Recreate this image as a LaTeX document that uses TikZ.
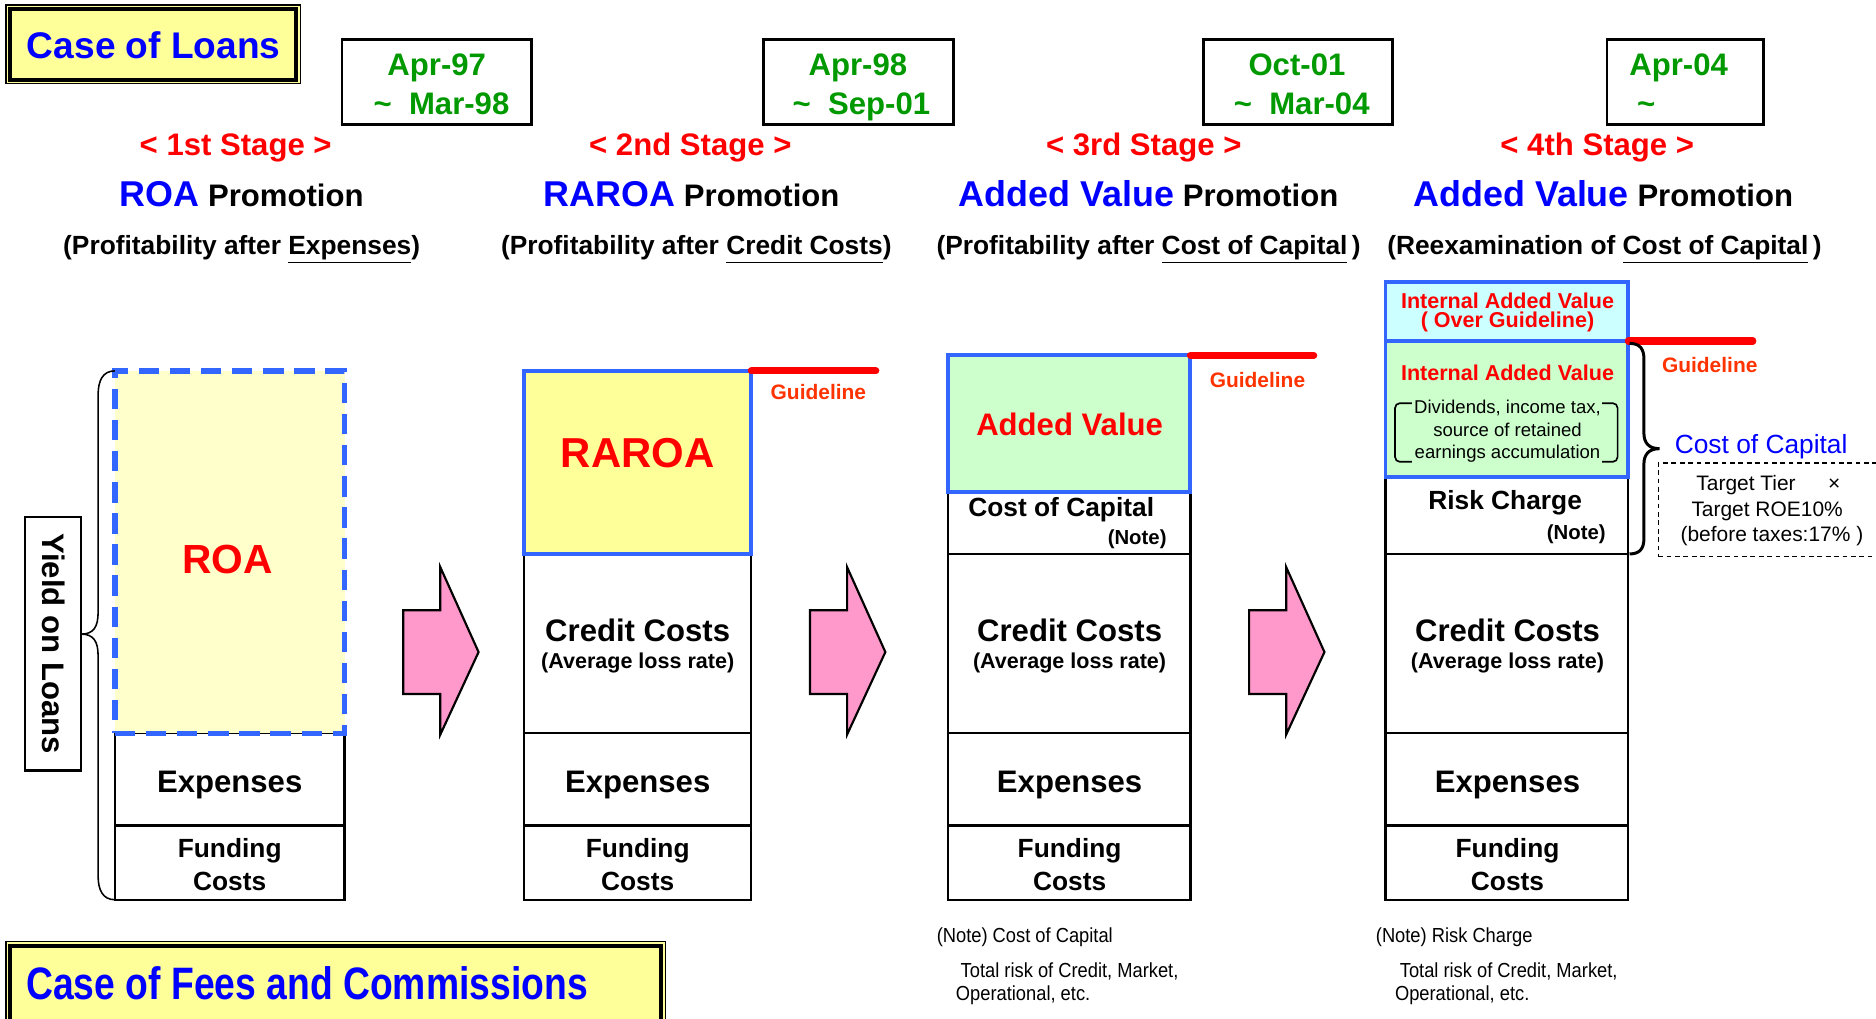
\documentclass[tikz,border=0pt]{standalone}
\usepackage{fontspec}
\setmainfont{Liberation Sans}
\usepackage{graphicx}
\usetikzlibrary{fit}
\definecolor{caseyel}{HTML}{FFFF99}
\definecolor{txtblue}{HTML}{0000FF}
\definecolor{dategreen}{HTML}{009900}
\definecolor{roafill}{HTML}{FFFFCC}
\definecolor{boxblue}{HTML}{3366FF}
\definecolor{raroafill}{HTML}{FFFF99}
\definecolor{avfill}{HTML}{CCFFCC}
\definecolor{overfill}{HTML}{CCFFFF}
\definecolor{arrowpink}{HTML}{FF99CC}
\definecolor{guidered}{HTML}{FF0000}
\definecolor{guidetxt}{HTML}{FF3300}
\newcommand\fsz[1]{\fontsize{#1}{#1}\selectfont}
\newcommand\ulx[1]{\underline{\vphantom{p}#1}}
\begin{document}
\begin{tikzpicture}[x=1pt,y=-1pt,
 txt/.style={inner sep=0pt,outer sep=0pt,anchor=base},
 cell/.style={draw=black,line width=1.8pt,fill=white,inner sep=0pt,outer sep=0pt},
 bluecell/.style={draw=boxblue,line width=3.3pt,inner sep=0pt,outer sep=0pt},
 roacell/.style={draw=boxblue,line width=4.5pt,dash pattern=on 17pt off 9pt,fill=roafill,inner sep=0pt,outer sep=0pt},
 datebox/.style={draw=black,line width=2.2pt,inner sep=0pt,outer sep=0pt},
 guideline/.style={draw=guidered,line width=6pt,line cap=round},
 bigarrow/.style={draw=black,line width=1.8pt,fill=arrowpink,line join=miter},
 datetxt/.style={txt,font=\fsz{26}\bfseries,text=dategreen},
 stagetxt/.style={txt,font=\fsz{26}\bfseries,text=red},
 promotxt/.style={txt,font=\fsz{26}\bfseries},
 paren/.style={txt,font=\fsz{22}\bfseries},
 bigcell/.style={txt,font=\fsz{26}\bfseries},
 midcell/.style={txt,font=\fsz{22}\bfseries},
 smallcell/.style={txt,font=\fsz{18}\bfseries},
 guidelbl/.style={txt,font=\fsz{17.5}\bfseries,text=guidetxt},
 notetxt/.style={txt,anchor=base west,font=\fsz{17}},
]
\useasboundingbox (0,0) rectangle (1568,851);
\fill[white] (0,0) rectangle (1568,851);

% ---------- Case of Loans
\node[draw=black,line width=1.2pt,fill=caseyel,fit={(5,4) (251,70)},inner sep=0pt,outer sep=0pt] (loansouter) {};
\node[draw=black,line width=3.3pt,fit={(8.5,7.8) (247.5,66.5)},inner sep=0pt,outer sep=0pt] (loansinner) {};
\node[txt,font=\fsz{31}\bfseries,text=txtblue] (loans) at (128.5,49) {Case of Loans};

% ---------- Date boxes
\node[datebox,fit={(286,33) (444,104)}] (date1) {};
\node[datetxt] (date1a) at (365,63) {Apr-97};
\node[datetxt] (date1b) at (369,96) {\textasciitilde\ \ Mar-98};
\node[datebox,fit={(638,33) (797,104)}] (date2) {};
\node[datetxt] (date2a) at (717,63) {Apr-98};
\node[datetxt] (date2b) at (720,96) {\textasciitilde\ \ Sep-01};
\node[datebox,fit={(1006,33) (1164,104)}] (date3) {};
\node[datetxt] (date3a) at (1084,63) {Oct-01};
\node[datetxt] (date3b) at (1088,96) {\textasciitilde\ \ Mar-04};
\node[datebox,fit={(1343,33) (1474,104)}] (date4) {};
\node[datetxt] (date4a) at (1403,63) {Apr-04};
\node[datetxt] (date4b) at (1376,96) {\textasciitilde};

% ---------- Stage headers
\node[stagetxt] (st1) at (197,130) {< 1st Stage >};
\node[stagetxt] (st2) at (577,130) {< 2nd Stage >};
\node[stagetxt] (st3) at (956,130) {< 3rd Stage >};
\node[stagetxt] (st4) at (1335,130) {< 4th Stage >};

\node[promotxt] (pr1) at (202,173) {{\fsz{30}\color{txtblue}ROA} Promotion};
\node[promotxt] (pr2) at (578,173) {{\fsz{30}\color{txtblue}RAROA} Promotion};
\node[promotxt] (pr3) at (960,173) {{\fsz{30}\color{txtblue}Added Value} Promotion};
\node[promotxt] (pr4) at (1340,173) {{\fsz{30}\color{txtblue}Added Value} Promotion};

\node[paren] (pa1) at (202,213) {(Profitability after \ulx{Expenses})};
\node[paren] (pa2) at (582,213) {(Profitability after \ulx{Credit Costs})};
\node[paren] (pa3) at (960,213) {(Profitability after \ulx{Cost of Capital}\,)};
\node[paren] (pa4) at (1341,213) {(Reexamination of \ulx{Cost of Capital}\,)};

% ---------- Column 1
\node[cell,fit={(96,613) (288,690)}] (exp1) {};
\node[cell,fit={(96,690) (288,752)}] (fund1) {};
\node[roacell,fit={(96,310) (288,613)}] (roa1) {};
\node[txt,font=\fsz{34}\bfseries,text=red] (roa1t) at (190,479) {ROA};
\node[bigcell] (exp1t) at (192,662) {Expenses};
\node[midcell] (fund1a) at (192,717) {Funding};
\node[midcell] (fund1b) at (192,744) {Costs};

% yield brace and box
\draw[line width=1.3pt] (96,310) .. controls (86,310) and (82,318) .. (82,330) -- (82,512)
  .. controls (82,524) and (78,530) .. (68,530) .. controls (78,530) and (82,536) .. (82,548)
  -- (82,732) .. controls (82,744) and (86,752) .. (96,752);
\node[draw=black,line width=1.8pt,fill=white,fit={(21,432) (68,644)},inner sep=0pt,outer sep=0pt] (yieldbox) {};
\node[font=\fsz{26}\bfseries,rotate=-90,inner sep=0pt] (yield) at (44.5,538) {Yield on Loans};

% ---------- Column 2
\node[cell,fit={(438,463) (628,613)}] (cred2) {};
\node[cell,fit={(438,613) (628,690)}] (exp2) {};
\node[cell,fit={(438,690) (628,752)}] (fund2) {};
\node[bluecell,fill=raroafill,fit={(438,310) (628,463)}] (raroa2) {};
\node[txt,font=\fsz{35}\bfseries,text=red] (raroa2t) at (533,391) {RAROA};
\node[bigcell] (cred2a) at (533,536) {Credit Costs};
\node[smallcell] (cred2b) at (533,559) {(Average loss rate)};
\node[bigcell] (exp2t) at (533,662) {Expenses};
\node[midcell] (fund2a) at (533,717) {Funding};
\node[midcell] (fund2b) at (533,744) {Costs};
\coordinate (g2end) at (732,310);
\draw[guideline] (raroa2.north east) -- (g2end);
\node[guidelbl] (g2t) at (684,334) {Guideline};

% ---------- Column 3
\node[cell,fit={(792,411) (995,463)}] (coc3) {};
\node[cell,fit={(792,463) (995,613)}] (cred3) {};
\node[cell,fit={(792,613) (995,690)}] (exp3) {};
\node[cell,fit={(792,690) (995,752)}] (fund3) {};
\node[bluecell,fill=avfill,fit={(792,297) (995,411)}] (av3) {};
\node[txt,font=\fsz{26}\bfseries,text=red] (av3t) at (894,364) {Added Value};
\node[midcell] (coc3a) at (887,432) {Cost of Capital};
\node[txt,anchor=base east,font=\fsz{17}\bfseries] (coc3b) at (975,455) {(Note)};
\node[bigcell] (cred3a) at (894,536) {Credit Costs};
\node[smallcell] (cred3b) at (894,559) {(Average loss rate)};
\node[bigcell] (exp3t) at (894,662) {Expenses};
\node[midcell] (fund3a) at (894,717) {Funding};
\node[midcell] (fund3b) at (894,744) {Costs};
\coordinate (g3end) at (1098,297);
\draw[guideline] (av3.north east) -- (g3end);
\node[guidelbl] (g3t) at (1051,324) {Guideline};

% ---------- Column 4
\node[cell,fit={(1158,399) (1361,463)}] (risk4) {};
\node[cell,fit={(1158,463) (1361,613)}] (cred4) {};
\node[cell,fit={(1158,613) (1361,690)}] (exp4) {};
\node[cell,fit={(1158,690) (1361,752)}] (fund4) {};
\node[bluecell,fill=avfill,fit={(1158,285) (1361,399)}] (iav4) {};
\node[bluecell,fill=overfill,fit={(1158,236) (1361,285)}] (over4) {};
\node[txt,font=\fsz{18}\bfseries,text=red] (over4a) at (1260,258) {Internal Added Value};
\node[txt,font=\fsz{18}\bfseries,text=red] (over4b) at (1260,274) {( Over Guideline)};
\node[txt,font=\fsz{18}\bfseries,text=red] (iav4a) at (1260,318) {Internal Added Value};
\node[txt,font=\fsz{15.5}] (iav4b) at (1260,346) {Dividends, income tax,};
\node[txt,font=\fsz{15.5}] (iav4c) at (1260,365) {source of retained};
\node[txt,font=\fsz{15.5}] (iav4d) at (1260,383) {earnings accumulation};
\draw[line width=1.4pt,rounded corners=4pt] (1180,337) -- (1166,337) -- (1166,386) -- (1180,386);
\draw[line width=1.4pt,rounded corners=4pt] (1339,337) -- (1352,337) -- (1352,386) -- (1339,386);
\node[midcell] (risk4a) at (1258,426) {Risk Charge};
\node[txt,anchor=base east,font=\fsz{17}\bfseries] (risk4b) at (1342,451) {(Note)};
\node[bigcell] (cred4a) at (1260,536) {Credit Costs};
\node[smallcell] (cred4b) at (1260,559) {(Average loss rate)};
\node[bigcell] (exp4t) at (1260,662) {Expenses};
\node[midcell] (fund4a) at (1260,717) {Funding};
\node[midcell] (fund4b) at (1260,744) {Costs};
\coordinate (g4end) at (1465,285);
\draw[guideline] (over4.south east) -- (g4end);
\node[guidelbl] (g4t) at (1429,311) {Guideline};

% right brace (cost of capital)
\draw[line width=2.5pt] (1362,287) .. controls (1371,287) and (1374,292) .. (1374,300) -- (1374,362)
  .. controls (1374,370) and (1378,375) .. (1387,375) .. controls (1378,375) and (1374,380) .. (1374,388)
  -- (1374,450) .. controls (1374,458) and (1371,463) .. (1362,463);
\node[txt,font=\fsz{22},text=txtblue] (cocl) at (1472,379) {Cost of Capital};
\node[draw=black,line width=1pt,dash pattern=on 4pt off 3pt,fit={(1386,387) (1575,465)},inner sep=0pt,outer sep=0pt] (tgtbox) {};
\node[txt,font=\fsz{17.5}] (tgt1) at (1478,410) {Target Tier\hspace{27pt}×};
\node[txt,font=\fsz{17.5}] (tgt2) at (1477,432) {Target ROE10\%};
\node[txt,font=\fsz{17.5}] (tgt3) at (1481,453) {(before taxes:17\% )};

% ---------- Arrows
\draw[bigarrow] (337,510) -- (368,510) -- (368,474) -- (400,545) -- (368,614) -- (368,580) -- (337,580) -- cycle;
\draw[bigarrow] (677,510) -- (708,510) -- (708,474) -- (740,545) -- (708,614) -- (708,580) -- (677,580) -- cycle;
\draw[bigarrow] (1044,510) -- (1075,510) -- (1075,474) -- (1107,545) -- (1075,614) -- (1075,580) -- (1044,580) -- cycle;

% ---------- Notes
\node[notetxt] (n3a) at (783,788) {\scalebox{0.9}[1]{(Note) Cost of Capital}};
\node[notetxt] (n3b) at (803,817) {\scalebox{0.9}[1]{Total risk of Credit, Market,}};
\node[notetxt] (n3c) at (799,836) {\scalebox{0.9}[1]{Operational, etc.}};
\node[notetxt] (n4a) at (1150,788) {\scalebox{0.9}[1]{(Note) Risk Charge}};
\node[notetxt] (n4b) at (1170,817) {\scalebox{0.9}[1]{Total risk of Credit, Market,}};
\node[notetxt] (n4c) at (1166,836) {\scalebox{0.9}[1]{Operational, etc.}};

% ---------- Case of Fees
\node[draw=black,line width=1.2pt,fill=caseyel,fit={(5,787) (556,862)},inner sep=0pt,outer sep=0pt] (feesouter) {};
\node[draw=black,line width=3.3pt,fit={(8.5,790.5) (552.5,858)},inner sep=0pt,outer sep=0pt] (feesinner) {};
\node[txt,anchor=base west,font=\fsz{38}\bfseries,text=txtblue] (fees) at (22,835) {\scalebox{0.82}[1]{Case of Fees and Commissions}};
\end{tikzpicture}
\end{document}
